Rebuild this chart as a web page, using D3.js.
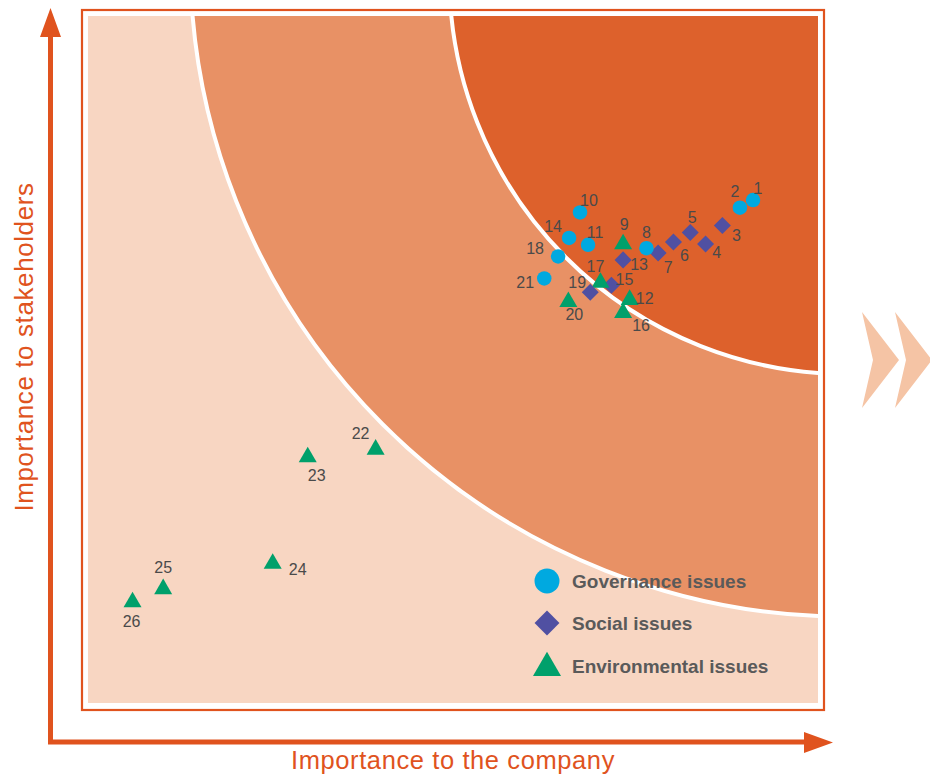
<!DOCTYPE html>
<html>
<head>
<meta charset="utf-8">
<script src="https://cdn.jsdelivr.net/npm/d3@7"></script>
<style>
  body { margin: 0; background: #fff; }
  svg { display: block; font-family: "Liberation Sans", Arial, sans-serif; }
</style>
</head>
<body>
<svg width="930" height="775"></svg>
<script>
// materiality matrix data
var issueIds = [1, 2, 3, 4, 5, 6, 7, 8, 9, 10, 11, 12, 13, 14, 15, 16, 17, 18, 19, 20, 21, 22, 23, 24, 25, 26];
var issueTypes = ["G", "G", "S", "S", "S", "S", "S", "G", "E", "G", "G", "E", "S",
                  "G", "S", "E", "E", "G", "S", "E", "G", "E", "E", "E", "E", "E"];
// importance to the company (0-100)
var companyScores = [91.1, 89.3, 86.9, 84.6, 82.5, 80.2, 78.1, 76.5, 73.3, 67.4, 68.5, 74.2, 73.3,
                     65.9, 71.7, 73.3, 70.2, 64.4, 68.8, 65.8, 62.5, 39.4, 30.1, 25.3, 10.3, 6.1];
// importance to stakeholders (0-100)
var stakeholderScores = [73.2, 72.1, 69.5, 66.8, 68.5, 67.1, 65.5, 66.2, 66.8, 71.4, 66.7, 58.7, 64.5,
                         67.7, 60.8, 56.8, 61.2, 65.0, 59.8, 58.4, 61.8, 36.9, 35.8, 20.3, 16.6, 14.7];

var typeKeys = ["G", "S", "E"];
var typeNames = ["Governance issues", "Social issues", "Environmental issues"];

// priority zones: centre and radius in score units
var zoneCentersX = [104.0, 104.0];
var zoneCentersY = [108.2, 105.8];
var zoneRadii = [90.0, 54.5];

// where each number sits relative to its marker (px)
var labelOffsets = {
    1: [5, -12], 2: [-5, -16], 3: [14, 10], 4: [11, 8], 5: [2, -15], 6: [11, 13],
    7: [10, 14], 8: [0, -16], 9: [1, -20], 10: [9, -12], 11: [7, -12], 12: [15, -1],
    13: [16, 5], 14: [-16, -11], 15: [13, -6], 16: [18, 13], 17: [-5, -16], 18: [-23, -8],
    19: [-13, -10], 20: [6, 13], 21: [-19, 4], 22: [-15, -16], 23: [9, 18], 24: [25, 6],
    25: [0, -21], 26: [-1, 19]
};

var svg = d3.select("svg");

var x = d3.scaleLinear().domain([0, 100]).range([88, 818]);
var y = d3.scaleLinear().domain([0, 100]).range([703, 16]);

var color = d3.scaleOrdinal().domain(typeKeys).range(["#00a9e0", "#5050a2", "#00a06b"]);
var shape = d3.scaleOrdinal().domain(typeKeys).range([d3.symbolCircle, d3.symbolSquare, d3.symbolTriangle]);
var sizes = { G: 165, S: 145, E: 140 };
var legendSizes = { G: 490, S: 310, E: 340 };

var orange = "#e0531e";

// frame
svg.append("rect")
    .attr("x", 82).attr("y", 10)
    .attr("width", 742).attr("height", 700)
    .attr("fill", "#fff")
    .attr("stroke", orange)
    .attr("stroke-width", 2.2);

svg.append("clipPath").attr("id", "plot-clip")
  .append("rect")
    .attr("x", x(0)).attr("y", y(100))
    .attr("width", x(100) - x(0)).attr("height", y(0) - y(100));

var plot = svg.append("g").attr("clip-path", "url(#plot-clip)");

plot.append("rect")
    .attr("x", x(0)).attr("y", y(100))
    .attr("width", x(100) - x(0)).attr("height", y(0) - y(100))
    .attr("fill", "#f8d6c2");

var zoneFills = ["#e89165", "#dd612c"];
plot.selectAll("circle.zone")
    .data(zoneRadii)
    .enter().append("circle")
        .attr("class", "zone")
        .attr("cx", function(d, i) { return x(zoneCentersX[i]); })
        .attr("cy", function(d, i) { return y(zoneCentersY[i]); })
        .attr("r", function(d) { return x(d) - x(0); })
        .attr("fill", function(d, i) { return zoneFills[i]; })
        .attr("stroke", "#fff")
        .attr("stroke-width", 4);

// markers
var issues = issueIds.map(function(id, i) {
    return { id: id, type: issueTypes[i], cx: companyScores[i], cy: stakeholderScores[i] };
});

svg.append("g")
    .selectAll("path")
    .data(issues)
    .enter().append("path")
        .attr("d", function(d) { return d3.symbol().type(shape(d.type)).size(sizes[d.type])(); })
        .attr("transform", function(d) {
            return "translate(" + x(d.cx) + "," + y(d.cy) + ")" + (d.type === "S" ? " rotate(45)" : "");
        })
        .attr("fill", function(d) { return color(d.type); });

svg.append("g")
    .selectAll("text")
    .data(issues)
    .enter().append("text")
        .attr("x", function(d) { return x(d.cx) + labelOffsets[d.id][0]; })
        .attr("y", function(d) { return y(d.cy) + labelOffsets[d.id][1]; })
        .attr("text-anchor", "middle")
        .attr("dominant-baseline", "central")
        .attr("font-size", 16)
        .attr("fill", "#4a4a4a")
        .text(function(d) { return d.id; });

// legend
var legend = svg.append("g").attr("transform", "translate(547,581)");
var legendItem = legend.selectAll("g")
    .data(typeKeys)
    .enter().append("g")
        .attr("transform", function(d, i) { return "translate(0," + [0, 42, 85][i] + ")"; });

legendItem.append("path")
    .attr("d", function(d) { return d3.symbol().type(shape(d)).size(legendSizes[d])(); })
    .attr("transform", function(d) { return d === "S" ? "rotate(45)" : (d === "E" ? "translate(0,2)" : null); })
    .attr("fill", function(d) { return color(d); });

legendItem.append("text")
    .attr("x", 25)
    .attr("dominant-baseline", "central")
    .attr("font-size", 19)
    .attr("font-weight", "bold")
    .attr("fill", "#5a5a5a")
    .text(function(d, i) { return typeNames[i]; });

// axis arrows
svg.append("path")
    .attr("d", "M50.5,742 L50.5,34 M48,742 L806,742")
    .attr("stroke", orange)
    .attr("stroke-width", 5)
    .attr("fill", "none");

svg.append("path")
    .attr("d", "M50.5,8 L61,37 L40,37 Z M833,742.5 L804,732 L804,753 Z")
    .attr("fill", orange);

svg.append("text")
    .attr("x", 453).attr("y", 769)
    .attr("text-anchor", "middle")
    .attr("font-size", 25.5)
    .attr("letter-spacing", 0.6)
    .attr("fill", orange)
    .text("Importance to the company");

svg.append("text")
    .attr("transform", "translate(33,347) rotate(-90)")
    .attr("text-anchor", "middle")
    .attr("font-size", 26)
    .attr("letter-spacing", 0.6)
    .attr("fill", orange)
    .text("Importance to stakeholders");

// chevrons on the right
svg.selectAll("path.chevron")
    .data([0, 33])
    .enter().append("path")
        .attr("class", "chevron")
        .attr("d", function(d) {
            return d3.line()([[862 + d, 312], [899 + d, 360], [862 + d, 408], [873 + d, 360]]) + "Z";
        })
        .attr("fill", "#f5c4a5");
</script>
</body>
</html>
